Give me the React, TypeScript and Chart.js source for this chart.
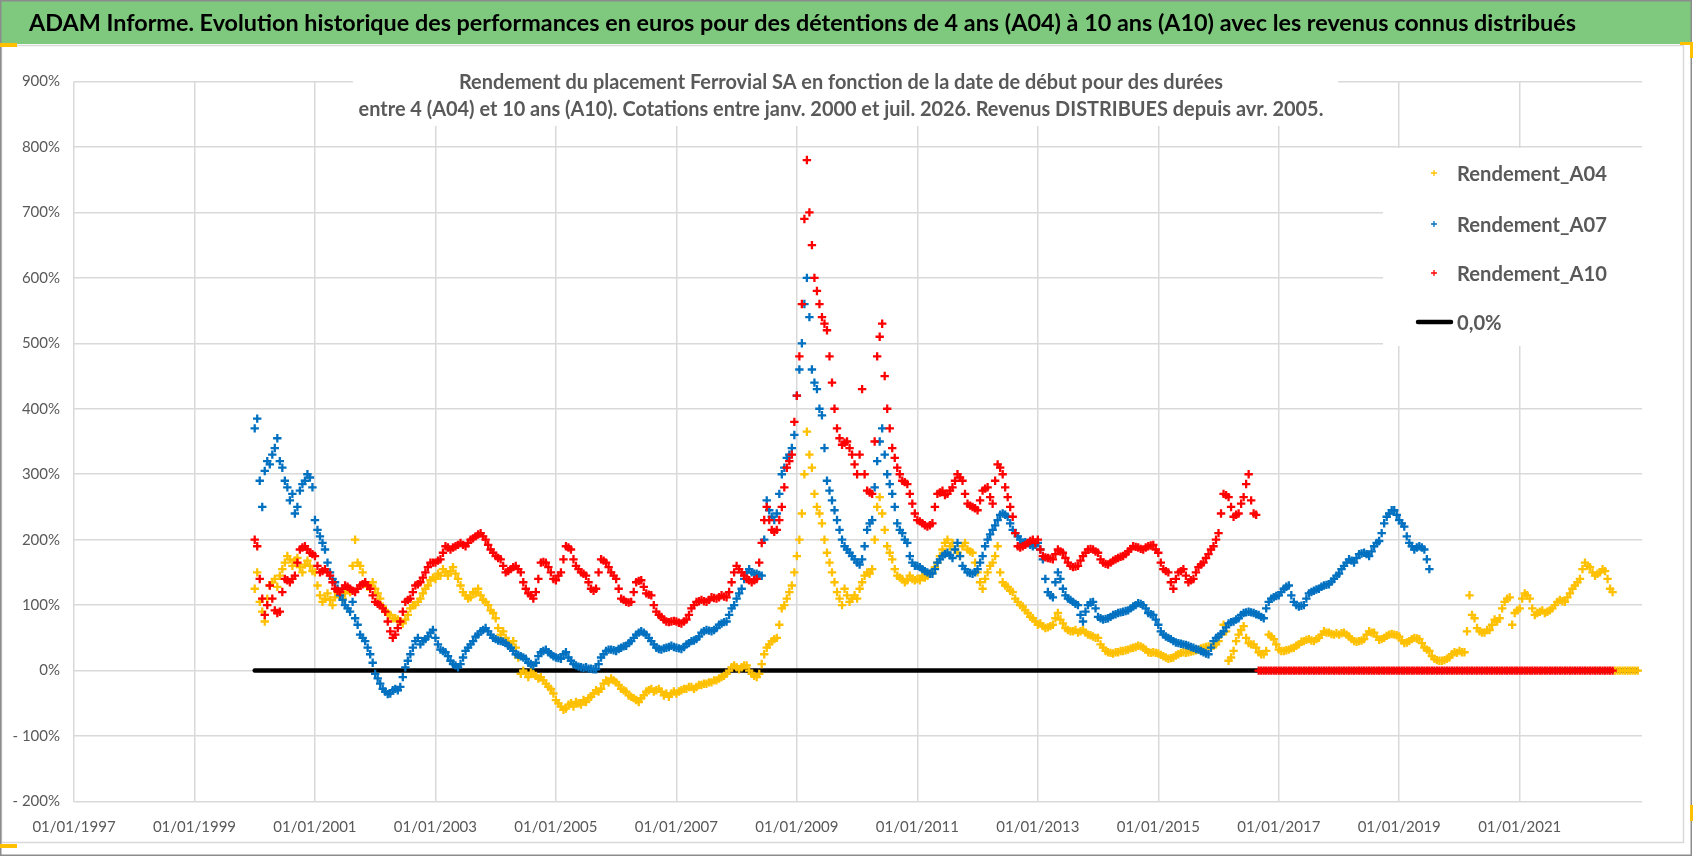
import React, { useRef, useEffect } from "react";
import { Chart, registerables, ChartConfiguration, Plugin } from "chart.js";

Chart.register(...registerables);

const TITLE =
  "ADAM Informe. Evolution historique des performances en euros pour des détentions de 4 ans (A04) à 10 ans (A10) avec les revenus connus distribués";
const SUBTITLE_LINES = [
  "Rendement du placement Ferrovial SA en fonction de la date de début pour des durées",
  "entre 4 (A04) et 10 ans (A10). Cotations entre janv. 2000 et juil. 2026. Revenus DISTRIBUES depuis avr. 2005.",
];
const LEGEND_LABELS = ["Rendement_A04", "Rendement_A07", "Rendement_A10", "0,0%"];

const X_TICK_YEARS = [1997, 1999, 2001, 2003, 2005, 2007, 2009, 2011, 2013, 2015, 2017, 2019, 2021];
const Y_TICK_VALUES = [-200, -100, 0, 100, 200, 300, 400, 500, 600, 700, 800, 900];

// two values per month (1st and mid-month), first value = 1 January 2000
const START_YEAR = 2000;
const STEPS_PER_YEAR = 24;

// Rendement_A04 (%), one row per year 2000 .. 2022
const A04 = [
  125, 150, 105, 90, 75, 110, 130, 135, 140, 128, 145, 155, 165, 175, 170, 160, 168, 172, 158, 150, 162, 168, 160, 152,
  150, 130, 115, 105, 110, 118, 108, 100, 112, 120, 115, 110, 118, 125, 120, 160, 200, 165, 160, 150, 135, 128, 130, 135,
  125, 118, 110, 98, 90, 88, 85, 80, 80, 78, 75, 72, 78, 85, 95, 100, 100, 105, 110, 118, 125, 130, 138, 142,
  140, 148, 145, 155, 150, 145, 152, 158, 148, 140, 130, 120, 115, 110, 112, 120, 118, 125, 115, 108, 105, 100, 92, 88,
  80, 65, 55, 60, 50, 45, 40, 45, 35, 20, -5, 0, -5, -10, -3, -5, -8, -12, -10, -15, -20, -25, -28, -35,
  -45, -50, -55, -60, -58, -52, -50, -55, -48, -50, -52, -45, -48, -42, -40, -35, -30, -32, -28, -20, -15, -18, -12, -15,
  -18, -22, -28, -30, -32, -38, -40, -42, -45, -48, -42, -38, -32, -30, -28, -32, -30, -28, -32, -38, -35, -40, -35, -32,
  -35, -32, -30, -28, -28, -25, -25, -28, -25, -22, -22, -20, -20, -18, -18, -15, -15, -12, -10, -8, -5, 0, 5, 8,
  5, 2, 5, 8, 8, 0, -5, -8, -10, -5, 10, 25, 35, 40, 45, 48, 50, 70, 95, 100, 110, 120, 130, 150,
  175, 200, 240, 300, 365, 330, 310, 270, 250, 240, 225, 200, 180, 165, 150, 135, 120, 110, 100, 125, 115, 105, 110, 115,
  110, 125, 135, 145, 150, 148, 155, 200, 250, 265, 240, 215, 190, 180, 170, 155, 145, 142, 140, 135, 138, 145, 140, 138,
  140, 138, 145, 142, 145, 148, 150, 158, 165, 175, 185, 195, 200, 190, 195, 185, 180, 175, 190, 195, 185, 182, 180, 165,
  150, 135, 125, 140, 150, 160, 165, 175, 190, 150, 135, 130, 128, 122, 120, 110, 105, 100, 98, 92, 88, 82, 80, 75,
  70, 72, 68, 65, 66, 68, 70, 80, 88, 78, 72, 65, 62, 60, 60, 62, 58, 60, 62, 58, 55, 54, 52, 50,
  50, 40, 35, 30, 28, 27, 26, 28, 28, 30, 30, 31, 32, 34, 35, 36, 38, 37, 35, 32, 28, 27, 28, 27,
  26, 24, 22, 20, 18, 19, 20, 23, 25, 27, 28, 27, 28, 29, 30, 31, 32, 34, 35, 36, 37, 36, 38, 40,
  45, 55, 70, 60, 15, 20, 30, 45, 55, 62, 68, 50, 42, 40, 40, 35, 28, 25, 25, 30, 55, 52, 48, 40,
  32, 30, 30, 31, 32, 34, 35, 38, 40, 44, 45, 47, 48, 46, 45, 48, 50, 55, 60, 58, 58, 56, 55, 57,
  55, 57, 58, 55, 52, 48, 45, 44, 45, 46, 48, 55, 60, 58, 58, 52, 47, 48, 50, 53, 55, 56, 55, 54,
  52, 46, 42, 43, 45, 48, 50, 49, 48, 42, 35, 32, 30, 22, 18, 16, 15, 15, 16, 18, 20, 25, 28, 27,
  30, 28, 28, 60, 115, 85, 80, 65, 60, 58, 58, 62, 62, 70, 78, 75, 80, 95, 105, 110, 112, 70, 88, 92,
  95, 110, 118, 115, 110, 95, 85, 88, 90, 92, 88, 90, 92, 95, 100, 105, 108, 106, 105, 112, 118, 125, 130, 135,
  140, 155, 165, 160, 158, 150, 145, 148, 150, 155, 152, 140, 125, 120, 0, 0, 0, 0, 0, 0, 0, 0, 0, 0,
];

// Rendement_A07 (%), 2000 .. July 2019
const A07 = [
  370, 385, 290, 250, 305, 320, 315, 330, 340, 355, 320, 310, 290, 280, 260, 270, 240, 250, 275, 285, 290, 300, 295, 280,
  230, 215, 205, 195, 185, 165, 150, 140, 135, 125, 115, 108, 100, 95, 90, 105, 80, 70, 55, 50, 45, 35, 25, 12,
  -5, -12, -20, -28, -32, -36, -35, -30, -28, -30, -25, -10, 5, 15, 25, 35, 45, 50, 40, 45, 48, 52, 58, 62,
  50, 40, 32, 30, 28, 22, 15, 10, 8, 5, 10, 20, 30, 35, 40, 45, 52, 55, 60, 62, 65, 60, 55, 50,
  48, 46, 45, 44, 42, 38, 35, 30, 25, 24, 22, 20, 18, 12, 10, 8, 12, 22, 28, 30, 32, 28, 25, 22,
  20, 19, 18, 25, 28, 20, 15, 10, 8, 6, 5, 4, 5, 3, 3, 2, 2, 10, 20, 25, 30, 32, 32, 31,
  30, 33, 35, 37, 38, 42, 45, 50, 55, 58, 60, 58, 55, 50, 45, 40, 35, 33, 32, 34, 35, 36, 38, 36,
  35, 34, 33, 36, 40, 42, 45, 46, 48, 52, 58, 60, 62, 61, 60, 62, 65, 70, 72, 74, 75, 85, 95, 100,
  110, 118, 125, 140, 150, 155, 150, 148, 148, 146, 145, 200, 260, 245, 235, 230, 240, 270, 300, 310, 325, 330, 340, 360,
  420, 460, 500, 560, 600, 540, 460, 440, 430, 400, 390, 340, 290, 275, 260, 245, 230, 215, 200, 190, 185, 180, 175, 170,
  165, 162, 170, 190, 215, 225, 230, 280, 320, 350, 370, 330, 300, 285, 270, 250, 225, 215, 210, 200, 195, 175, 165, 160,
  160, 158, 155, 152, 150, 148, 148, 155, 165, 170, 175, 178, 180, 176, 172, 185, 195, 175, 160, 155, 150, 149, 148, 150,
  155, 165, 175, 190, 200, 208, 215, 222, 230, 238, 240, 238, 235, 225, 215, 210, 205, 200, 195, 196, 195, 192, 190, 192,
  195, 185, 170, 140, 120, 115, 112, 135, 150, 140, 125, 115, 110, 108, 105, 102, 100, 85, 75, 90, 100, 104, 105, 95,
  82, 80, 78, 79, 80, 82, 85, 86, 88, 89, 90, 91, 92, 95, 98, 100, 103, 102, 100, 95, 88, 86, 85, 78,
  70, 60, 55, 52, 50, 48, 45, 43, 42, 41, 40, 39, 38, 36, 35, 33, 32, 30, 28, 26, 25, 35, 45, 50,
  52, 56, 60, 66, 72, 74, 75, 78, 80, 85, 88, 89, 90, 89, 88, 86, 85, 82, 80, 95, 105, 110, 112, 114,
  115, 120, 125, 128, 130, 115, 105, 100, 98, 99, 100, 110, 118, 120, 122, 124, 125, 128, 130, 131, 132, 136, 140, 145,
  148, 155, 160, 165, 170, 168, 165, 172, 178, 179, 180, 178, 175, 182, 190, 195, 198, 210, 225, 235, 240, 245, 245, 238,
  230, 225, 220, 205, 195, 190, 185, 188, 190, 188, 185, 170, 155,
];

// Rendement_A10 (%), 2000 .. July 2022 (0 once the 10-year window is not complete)
const A10 = [
  200, 190, 140, 110, 85, 100, 130, 110, 92, 88, 90, 120, 140, 138, 135, 140, 145, 165, 185, 188, 190, 185, 180, 178,
  175, 160, 150, 152, 155, 150, 145, 135, 125, 122, 120, 125, 130, 128, 125, 122, 120, 125, 130, 132, 135, 130, 125, 115,
  105, 102, 100, 95, 90, 75, 60, 50, 55, 65, 75, 90, 105, 108, 110, 120, 130, 132, 135, 142, 150, 158, 165, 165,
  165, 168, 170, 180, 190, 188, 185, 188, 190, 192, 195, 192, 190, 195, 200, 202, 205, 208, 210, 205, 200, 192, 185, 180,
  175, 172, 170, 160, 150, 152, 155, 158, 160, 155, 150, 135, 125, 118, 115, 110, 120, 140, 165, 166, 165, 158, 150, 140,
  138, 145, 150, 170, 190, 188, 185, 170, 160, 155, 150, 148, 145, 135, 125, 122, 125, 150, 170, 168, 165, 158, 150, 145,
  140, 125, 110, 108, 105, 104, 105, 120, 135, 137, 138, 128, 118, 116, 115, 100, 90, 85, 82, 78, 75, 74, 75, 76,
  75, 73, 72, 75, 78, 85, 95, 100, 105, 106, 108, 106, 105, 108, 112, 111, 110, 112, 115, 113, 112, 120, 135, 150,
  160, 155, 150, 145, 140, 138, 135, 138, 140, 165, 195, 230, 250, 230, 215, 212, 215, 230, 250, 280, 310, 320, 330, 380,
  420, 480, 560, 690, 780, 700, 650, 600, 580, 560, 540, 530, 520, 480, 440, 400, 370, 355, 345, 348, 350, 340, 330, 315,
  300, 330, 430, 300, 275, 272, 270, 350, 480, 510, 530, 450, 400, 370, 340, 325, 310, 300, 290, 288, 285, 270, 255, 240,
  230, 228, 225, 222, 220, 222, 225, 250, 270, 272, 275, 268, 270, 275, 280, 290, 300, 295, 290, 270, 255, 252, 250, 248,
  245, 260, 275, 278, 280, 265, 255, 290, 315, 310, 300, 280, 265, 250, 235, 210, 190, 188, 190, 192, 195, 198, 200, 195,
  200, 185, 175, 173, 172, 171, 170, 178, 185, 182, 180, 172, 165, 160, 158, 159, 160, 168, 175, 180, 185, 186, 185, 182,
  180, 170, 165, 163, 162, 165, 168, 170, 172, 174, 175, 178, 182, 186, 190, 189, 188, 186, 185, 188, 190, 191, 192, 185,
  180, 165, 155, 152, 150, 135, 125, 140, 150, 152, 155, 145, 135, 138, 140, 150, 158, 162, 165, 172, 178, 185, 190, 200,
  210, 240, 270, 268, 265, 250, 235, 238, 240, 255, 265, 285, 300, 260, 240, 238, 0, 0, 0, 0, 0, 0, 0, 0,
  0, 0, 0, 0, 0, 0, 0, 0, 0, 0, 0, 0, 0, 0, 0, 0, 0, 0, 0, 0, 0, 0, 0, 0,
  0, 0, 0, 0, 0, 0, 0, 0, 0, 0, 0, 0, 0, 0, 0, 0, 0, 0, 0, 0, 0, 0, 0, 0,
  0, 0, 0, 0, 0, 0, 0, 0, 0, 0, 0, 0, 0, 0, 0, 0, 0, 0, 0, 0, 0, 0, 0, 0,
  0, 0, 0, 0, 0, 0, 0, 0, 0, 0, 0, 0, 0, 0, 0, 0, 0, 0, 0, 0, 0, 0, 0, 0,
  0, 0, 0, 0, 0, 0, 0, 0, 0, 0, 0, 0, 0, 0, 0, 0, 0, 0, 0, 0, 0, 0, 0, 0,
  0, 0, 0, 0, 0, 0, 0, 0, 0, 0, 0, 0, 0, 0,
];

const ZERO_LINE_YEARS = [2000, 2022.95];
const ZERO_LINE_VALUES = [0, 0];

const GOLD = "#FFC000";
const BLUE = "#0070C0";
const RED = "#FF0000";
const GREY = "#595959";
const GRID = "#d9d9d9";
const HEADER_GREEN = "#7fc97f";
const FONT = "Lato";

const toPoints = (values: number[]) =>
  values.map((y, i) => ({ x: START_YEAR + i / STEPS_PER_YEAR, y }));

const fitSize = (ctx: CanvasRenderingContext2D, text: string, width: number) => {
  ctx.font = `bold 100px ${FONT}`;
  return (100 * width) / ctx.measureText(text).width;
};

const drawCross = (ctx: CanvasRenderingContext2D, x: number, y: number, r: number) => {
  ctx.beginPath();
  ctx.moveTo(x - r, y);
  ctx.lineTo(x + r, y);
  ctx.moveTo(x, y - r);
  ctx.lineTo(x, y + r);
  ctx.stroke();
};

const decorPlugin: Plugin<"scatter"> = {
  id: "decor",
  beforeDraw(chart) {
    const ctx = chart.ctx;
    ctx.save();
    ctx.fillStyle = "#ffffff";
    ctx.fillRect(0, 0, chart.width, chart.height);

    // header band
    ctx.fillStyle = HEADER_GREEN;
    ctx.fillRect(1, 1, 1690, 43);
    ctx.fillStyle = "#000000";
    ctx.font = `bold ${fitSize(ctx, TITLE, 1548)}px ${FONT}`;
    ctx.textBaseline = "middle";
    ctx.textAlign = "left";
    ctx.fillText(TITLE, 29, 23);

    // frames
    ctx.strokeStyle = GRID;
    ctx.lineWidth = 1.5;
    ctx.strokeRect(1.5, 45.5, 1682, 797);
    ctx.strokeStyle = "#8c8c8c";
    ctx.lineWidth = 1.5;
    ctx.strokeRect(0.75, 0.75, 1690.5, 854.5);

    // selection marks
    ctx.fillStyle = GOLD;
    ctx.fillRect(0, 43, 17, 4);
    ctx.fillRect(0, 844, 17, 4);
    ctx.fillRect(1680, 42, 13, 3);
    ctx.fillRect(1690, 42, 3, 16);
    ctx.fillRect(1690, 805, 3, 16);
    ctx.restore();
  },
  afterDraw(chart) {
    const ctx = chart.ctx;
    ctx.save();

    // chart title box
    ctx.fillStyle = "#ffffff";
    ctx.fillRect(353, 60, 985, 66);
    const subSize = fitSize(ctx, SUBTITLE_LINES[1], 965);
    ctx.font = `bold ${subSize}px ${FONT}`;
    ctx.fillStyle = GREY;
    ctx.textAlign = "center";
    ctx.textBaseline = "middle";
    ctx.fillText(SUBTITLE_LINES[0], 841, 83);
    ctx.fillText(SUBTITLE_LINES[1], 841, 110);

    // legend box
    ctx.fillStyle = "#ffffff";
    ctx.fillRect(1383, 148, 259, 198);
    const rows = [173, 224, 273, 322];
    const colors = [GOLD, BLUE, RED];
    const legSize = fitSize(ctx, LEGEND_LABELS[0], 150);
    ctx.textAlign = "left";
    LEGEND_LABELS.forEach((label, i) => {
      const y = rows[i];
      if (i < 3) {
        ctx.strokeStyle = colors[i];
        ctx.lineWidth = 1.3;
        drawCross(ctx, 1434, y, 3);
      } else {
        ctx.strokeStyle = "#000000";
        ctx.lineWidth = 4.5;
        ctx.lineCap = "round";
        ctx.beginPath();
        ctx.moveTo(1418, y);
        ctx.lineTo(1451, y);
        ctx.stroke();
      }
      ctx.fillStyle = GREY;
      ctx.font = `bold ${legSize}px ${FONT}`;
      ctx.fillText(label, 1457, y + 1);
    });
    ctx.restore();
  },
};

const crossSeries = (label: string, color: string, values: number[], order: number) => ({
  label,
  data: toPoints(values),
  order,
  pointStyle: "cross" as const,
  pointRadius: 4.2,
  pointBorderWidth: 2.3,
  borderColor: color,
  backgroundColor: color,
  showLine: false,
});

const App = () => {
  const canvasRef = useRef<HTMLCanvasElement | null>(null);
  const chartRef = useRef<Chart | null>(null);

  useEffect(() => {
    if (!canvasRef.current) return;
    if (chartRef.current) chartRef.current.destroy();

    const config: ChartConfiguration<"scatter"> = {
      type: "scatter",
      data: {
        datasets: [
          crossSeries(LEGEND_LABELS[0], GOLD, A04, 3),
          crossSeries(LEGEND_LABELS[1], BLUE, A07, 2),
          crossSeries(LEGEND_LABELS[2], RED, A10, 1),
          {
            label: LEGEND_LABELS[3],
            data: ZERO_LINE_YEARS.map((x, i) => ({ x, y: ZERO_LINE_VALUES[i] })),
            order: 4,
            showLine: true,
            pointRadius: 0,
            borderColor: "#000000",
            borderWidth: 4.5,
            borderCapStyle: "round",
          },
        ],
      },
      options: {
        animation: false,
        responsive: true,
        maintainAspectRatio: false,
        events: [],
        layout: { padding: { left: 0, top: 81.5, right: 56, bottom: 0 } },
        plugins: {
          legend: { display: false },
          tooltip: { enabled: false },
        },
        scales: {
          x: {
            type: "linear",
            min: 1997,
            max: 2023.03,
            afterBuildTicks: (scale) => {
              scale.ticks = X_TICK_YEARS.map((value) => ({ value }));
            },
            afterFit: (scale) => {
              scale.height = 54.5;
            },
            grid: { color: GRID, lineWidth: 1.5, drawTicks: false },
            border: { display: false },
            ticks: {
              padding: 17,
              color: GREY,
              autoSkip: false,
              maxRotation: 0,
              font: { family: FONT, size: 15 },
              callback: (v) => `01/01/${v}`,
            },
          },
          y: {
            type: "linear",
            min: -200,
            max: 900,
            afterBuildTicks: (scale) => {
              scale.ticks = Y_TICK_VALUES.map((value) => ({ value }));
            },
            afterFit: (scale) => {
              scale.width = 74;
            },
            grid: { color: GRID, lineWidth: 1.5, drawTicks: false },
            border: { display: false },
            ticks: {
              padding: 14,
              color: GREY,
              font: { family: FONT, size: 15 },
              callback: (v) => {
                const n = Number(v);
                return n < 0 ? `- ${-n}%` : `${n}%`;
              },
            },
          },
        },
      },
      plugins: [decorPlugin],
    };

    chartRef.current = new Chart(canvasRef.current, config);

    return () => {
      if (chartRef.current) {
        chartRef.current.destroy();
        chartRef.current = null;
      }
    };
  }, []);

  return (
    <div
      style={{
        position: "absolute",
        left: 0,
        top: 0,
        width: 1698,
        height: 856,
        background: "#ffffff",
      }}
    >
      <canvas ref={canvasRef}></canvas>
    </div>
  );
};

export default App;
